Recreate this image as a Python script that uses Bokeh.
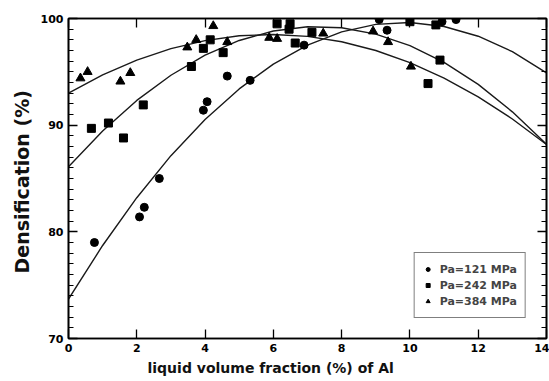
from bokeh.plotting import figure
from bokeh.models import Range1d, LinearAxis, FixedTicker, Title, Legend, LegendItem
from bokeh.embed import file_html
from bokeh.resources import INLINE

# ---- data ----
# P = 121 MPa (circles)
x121 = [0.76, 2.08, 2.22, 2.66, 3.95, 4.06, 4.65, 5.32, 6.90, 9.10, 9.33, 10.94, 11.35]
y121 = [79.0, 81.4, 82.3, 85.0, 91.4, 92.2, 94.6, 94.2, 97.5, 99.9, 98.9, 99.7, 99.9]
# P = 242 MPa (squares)
x242 = [0.67, 1.17, 1.61, 2.19, 3.60, 3.95, 4.15, 4.53, 6.11, 6.49, 6.46, 6.64, 7.13, 10.00, 10.53, 10.76, 10.88]
y242 = [89.7, 90.2, 88.8, 91.9, 95.5, 97.2, 98.0, 96.8, 99.5, 99.5, 99.0, 97.7, 98.7, 99.7, 93.9, 99.4, 96.1]
# P = 384 MPa (triangles)
x384 = [0.35, 0.56, 1.52, 1.81, 3.48, 3.74, 4.24, 4.65, 5.88, 6.11, 7.46, 8.92, 9.36, 10.03]
y384 = [94.4, 95.0, 94.1, 94.9, 97.3, 98.0, 99.3, 97.8, 98.2, 98.1, 98.6, 98.8, 97.8, 95.5]

# fitted curves
x_curve = [0, 1, 2, 3, 4, 5, 6, 7, 8, 9, 10, 11, 12, 13, 14]
c121 = [73.70, 78.72, 83.20, 87.14, 90.54, 93.40, 95.72, 97.50, 98.75, 99.45, 99.62, 99.25, 98.34, 96.89, 94.90]
c242 = [86.10, 89.45, 92.32, 94.68, 96.56, 97.94, 98.83, 99.23, 99.13, 98.54, 97.46, 95.88, 93.82, 91.25, 88.20]
c384 = [93.00, 94.71, 96.10, 97.17, 97.93, 98.38, 98.50, 98.32, 97.82, 97.00, 95.87, 94.42, 92.66, 90.58, 88.19]

x_ticks = [0, 2, 4, 6, 8, 10, 12, 14]
y_ticks = [70, 80, 90, 100]
y_minor = list(range(70, 101))
labels = ["Pa=121 MPa", "Pa=242 MPa", "Pa=384 MPa"]
x_title = "liquid volume fraction (%) of Al"
y_title = "Densification  (%)"

FONT = "DejaVu Sans"

p = figure(width=549, height=381, x_range=Range1d(0, 14), y_range=Range1d(70, 100),
           output_backend="svg", toolbar_location=None,
           min_border_left=68, min_border_right=3, min_border_top=18, min_border_bottom=43)
p.background_fill_color = "white"
p.border_fill_color = "white"
p.outline_line_color = "black"
p.outline_line_width = 1.6
p.xgrid.visible = False
p.ygrid.visible = False

def style_axis(ax, show_labels, minor):
    ax.axis_line_color = "black"
    ax.axis_line_width = 1.6
    ax.major_tick_in = 9
    ax.major_tick_out = 0
    ax.major_tick_line_width = 1.3
    ax.major_tick_line_color = "black"
    if minor:
        ax.minor_tick_in = 5
        ax.minor_tick_out = 0
        ax.minor_tick_line_width = 1.2
        ax.minor_tick_line_color = "black"
    else:
        ax.minor_tick_line_color = None
    if show_labels:
        ax.major_label_text_font = FONT
        ax.major_label_text_font_style = "bold"
        ax.major_label_text_font_size = "11px"
        ax.major_label_text_color = "black"
    else:
        ax.major_label_text_color = None
        ax.major_label_text_font_size = "0px"
        ax.major_label_standoff = 0

p.xaxis.ticker = FixedTicker(ticks=x_ticks)
p.yaxis.ticker = FixedTicker(ticks=y_ticks, minor_ticks=y_minor)
style_axis(p.xaxis[0], True, False)
style_axis(p.yaxis[0], True, True)
p.xaxis.major_label_standoff = 5
p.yaxis.major_label_standoff = 5

top = LinearAxis(ticker=FixedTicker(ticks=x_ticks))
style_axis(top, False, False)
p.add_layout(top, "above")
right = LinearAxis(ticker=FixedTicker(ticks=y_ticks, minor_ticks=y_minor))
style_axis(right, False, True)
p.add_layout(right, "right")

p.yaxis[0].axis_label = y_title
p.yaxis[0].axis_label_text_font = FONT
p.yaxis[0].axis_label_text_font_style = "bold"
p.yaxis[0].axis_label_text_font_size = "19px"
p.yaxis[0].axis_label_text_color = "#111111"
p.yaxis[0].axis_label_standoff = 5

# curves
for c in (c121, c242, c384):
    p.line(x_curve, c, line_color="#1a1a1a", line_width=1.4)

r1 = p.scatter(x121, y121, marker="circle", size=8, color="black")
r2 = p.scatter(x242, y242, marker="square", size=8, color="black")
r3 = p.scatter(x384, y384, marker="triangle", size=9, color="black")

legend = Legend(items=[LegendItem(label=labels[0], renderers=[r1]),
                       LegendItem(label=labels[1], renderers=[r2]),
                       LegendItem(label=labels[2], renderers=[r3])],
                location="bottom_right")
legend.margin = 20
legend.padding = 8
legend.spacing = 0
legend.glyph_width = 10
legend.glyph_height = 10
legend.label_height = 16
legend.label_standoff = 7
legend.label_text_font = FONT
legend.label_text_font_style = "bold"
legend.label_text_font_size = "11px"
legend.label_text_baseline = "middle"
legend.border_line_color = "black"
legend.border_line_width = 1.5
legend.background_fill_alpha = 1
p.add_layout(legend, "center")

xt = Title(text=x_title, align="left", offset=79, standoff=7,
           text_font=FONT, text_font_style="bold", text_font_size="14px",
           text_color="#111111")
p.add_layout(xt, "below")

open("out.html", "w").write(file_html(p, INLINE))
